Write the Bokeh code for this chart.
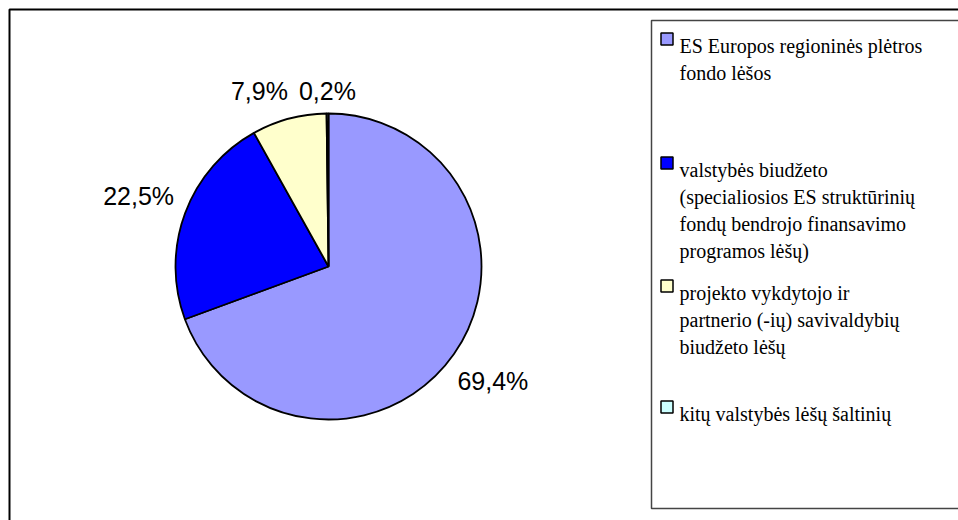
import math
from bokeh.plotting import figure
from bokeh.models import Range1d, ColumnDataSource
from bokeh.core.properties import value
from bokeh.embed import file_html
from bokeh.resources import INLINE

# ---- data ----
shares = [69.4, 22.5, 7.9, 0.2]
share_labels = ["69,4%", "22,5%", "7,9%", "0,2%"]
colors = ["#9999FF", "#0000FF", "#FFFFCC", "#CCFFFF"]
legend_lines = [
    ["ES Europos regioninės plėtros", "fondo lėšos"],
    ["valstybės biudžeto", "(specialiosios ES struktūrinių",
     "fondų bendrojo finansavimo", "programos lėšų)"],
    ["projekto vykdytojo ir", "partnerio (-ių) savivaldybių", "biudžeto lėšų"],
    ["kitų valstybės lėšų šaltinių"],
]

W, H = 958, 520
p = figure(width=W, height=H, output_backend="svg", toolbar_location=None,
           x_range=Range1d(0, W), y_range=Range1d(0, H),
           min_border=0, outline_line_color=None)
p.axis.visible = False
p.grid.visible = False
p.background_fill_color = "white"
p.border_fill_color = "white"

# outer frame (extends past the window on right/bottom)
p.quad(left=[9], right=[W + 50], top=[H - 9], bottom=[-50],
       fill_color=None, line_color="black", line_width=2)
# legend box
p.quad(left=[651], right=[W + 50], top=[H - 20], bottom=[H - 508],
       fill_color=None, line_color="#444444", line_width=1.5)

# ---- pie ----
cx, cy, r = 328, H - 266, 153
total = sum(shares)
starts, ends, mids = [], [], []
acc = 0.0
for s in shares:
    a0 = math.pi / 2 - 2 * math.pi * acc / total
    acc += s
    a1 = math.pi / 2 - 2 * math.pi * acc / total
    starts.append(a0)
    ends.append(a1)
    mids.append((a0 + a1) / 2)

src = ColumnDataSource(dict(x=[cx] * len(shares), y=[cy] * len(shares),
                            start=starts, end=ends, color=colors))
p.wedge(x="x", y="y", radius=r, start_angle="start", end_angle="end",
        direction="clock", fill_color="color", line_color="black",
        line_width=1.8, source=src)

# data labels: outside end, box just touching a ring outside the pie
fs = 25
lx, ly, lw = [], [], []
for lab, m in zip(share_labels, mids):
    dx, dy = math.cos(m), math.sin(m)
    w = len(lab) * 0.58 * fs
    h = 20
    R = r + 12 + abs(dx) * w / 2 + abs(dy) * h / 2
    lx.append(cx + dx * R)
    ly.append(cy + dy * R)
    lw.append(w)
# resolve overlaps between neighbouring labels by pushing the earlier one left
for i in range(len(lx) - 2, -1, -1):
    j = i + 1
    if abs(ly[i] - ly[j]) < 22:
        right_i = lx[i] + lw[i] / 2
        left_j = lx[j] - lw[j] / 2
        if right_i + 10 > left_j:
            lx[i] -= right_i + 10 - left_j
p.text(x=lx, y=ly, text=share_labels, text_align="center",
       text_baseline="middle", text_font=value("Liberation Sans"),
       text_font_size=f"{fs}px", text_color="black")

# ---- legend ----
first_baselines = [45, 169, 292, 413]
line_gap = 27.3
tx, ty, tt = [], [], []
for lines, b in zip(legend_lines, first_baselines):
    for k, ln in enumerate(lines):
        tx.append(679)
        ty.append(H - (b + k * line_gap))
        tt.append(ln)
p.text(x=tx, y=ty, text=tt, text_align="left", text_baseline="alphabetic",
       text_font=value("Liberation Serif"), text_font_size="20px",
       text_color="black")

mx = [666.5] * len(colors)
my = [H - (b - 6.5) for b in first_baselines]
p.rect(x=mx, y=my, width=12, height=12, fill_color=colors,
       line_color="black", line_width=1.5)

open("out.html", "w").write(file_html(p, INLINE))
